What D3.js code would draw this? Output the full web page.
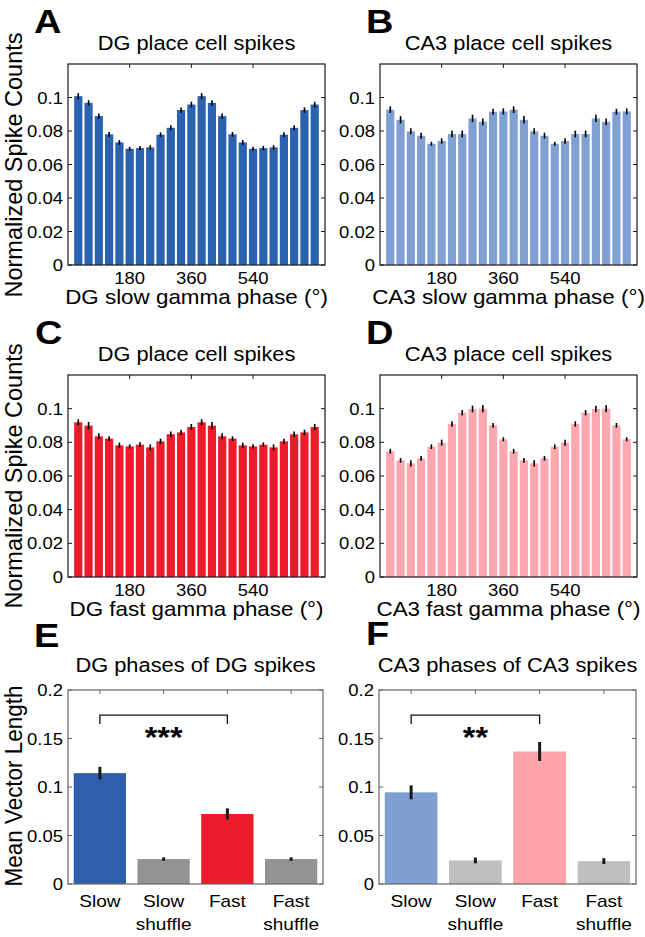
<!DOCTYPE html>
<html><head><meta charset="utf-8">
<script src="https://cdn.jsdelivr.net/npm/d3@7"></script>
<style>body{margin:0;background:#fff}svg{display:block}</style>
</head><body>
<script>
// ---------- DATA ----------
const phaseBins = [30,60,90,120,150,180,210,240,270,300,330,360,390,420,450,480,510,540,570,600,630,660,690,720];
const phaseTicks = [180,360,540];
const countTicks = [0,0.02,0.04,0.06,0.08,0.1];

const dgSlowCounts = [0.1008,0.0968,0.0889,0.0780,0.0732,0.0694,0.0698,0.0702,0.0778,0.0819,0.0925,0.0958,
                      0.1008,0.0968,0.0889,0.0780,0.0732,0.0694,0.0698,0.0702,0.0778,0.0819,0.0925,0.0958];
const dgSlowErr    = [0.0018,0.0016,0.0016,0.0014,0.0014,0.0012,0.0013,0.0013,0.0014,0.0015,0.0016,0.0017,
                      0.0018,0.0016,0.0016,0.0014,0.0014,0.0012,0.0013,0.0013,0.0014,0.0015,0.0016,0.0017];
const ca3SlowCounts = [0.0927,0.0867,0.0798,0.0772,0.0724,0.0740,0.0782,0.0782,0.0875,0.0855,0.0915,0.0917,
                       0.0927,0.0867,0.0798,0.0772,0.0724,0.0740,0.0782,0.0782,0.0875,0.0855,0.0915,0.0917];
const ca3SlowErr    = [0.0020,0.0022,0.0018,0.0018,0.0012,0.0016,0.0020,0.0020,0.0022,0.0020,0.0018,0.0018,
                       0.0020,0.0022,0.0018,0.0018,0.0012,0.0016,0.0020,0.0020,0.0022,0.0020,0.0018,0.0018];
const dgFastCounts = [0.0919,0.0899,0.0836,0.0822,0.0782,0.0776,0.0786,0.0770,0.0806,0.0848,0.0859,0.0891,
                      0.0919,0.0899,0.0836,0.0822,0.0782,0.0776,0.0786,0.0770,0.0806,0.0848,0.0859,0.0891];
const dgFastErr    = [0.0018,0.0022,0.0018,0.0014,0.0016,0.0012,0.0014,0.0018,0.0016,0.0016,0.0016,0.0018,
                      0.0018,0.0022,0.0018,0.0014,0.0016,0.0012,0.0014,0.0018,0.0016,0.0016,0.0016,0.0018];
const ca3FastCounts = [0.0747,0.0693,0.0675,0.0705,0.0774,0.0798,0.0909,0.0976,0.0998,0.1000,0.0901,0.0818,
                       0.0747,0.0693,0.0675,0.0705,0.0774,0.0798,0.0909,0.0976,0.0998,0.1000,0.0901,0.0818];
const ca3FastErr    = [0.0014,0.0014,0.0018,0.0014,0.0014,0.0018,0.0016,0.0016,0.0020,0.0022,0.0014,0.0012,
                       0.0014,0.0014,0.0018,0.0014,0.0014,0.0018,0.0016,0.0016,0.0020,0.0022,0.0014,0.0012];

const mvlCategories = [["Slow"],["Slow","shuffle"],["Fast"],["Fast","shuffle"]];
const mvlTicks = [0,0.05,0.1,0.15,0.2];
const dgMVL    = [0.1143,0.0257,0.0722,0.0257];
const dgMVLErr = [0.0065,0.0018,0.0058,0.0018];
const ca3MVL    = [0.0945,0.0243,0.1366,0.0236];
const ca3MVLErr = [0.0072,0.0030,0.0098,0.0030];

// ---------- STYLE / LAYOUT ----------
const FONT = "'Liberation Sans', Arial, Helvetica, sans-serif";
const SX = 1.12;
const W = 645, H = 937;
const svg = d3.select("body").append("svg").attr("width", W).attr("height", H);

function txt(x, y, s, o = {}) {
  return svg.append("text")
    .attr("transform", o.rot ? `translate(${x},${y}) rotate(-90) scale(1,1.05)` : `translate(${x},${y}) scale(${o.sx || SX},1)`)
    .attr("text-anchor", o.anchor || "middle")
    .attr("font-family", FONT)
    .attr("font-size", o.fs || 16)
    .attr("font-weight", o.bold ? "bold" : "normal")
    .attr("fill", "#000")
    .text(s);
}

function histPanel(p) {
  const x = d3.scaleLinear().domain([0, 750]).range([p.x0, p.x1]);
  const y = d3.scaleLinear().domain([0, 0.12]).range([p.y1, p.y0]);
  const g = svg.append("g");
  const tl = 4;
  phaseTicks.forEach(t => {
    g.append("line").attr("x1", x(t)).attr("x2", x(t)).attr("y1", p.y0).attr("y2", p.y0 + tl).attr("stroke", p.axis);
    g.append("line").attr("x1", x(t)).attr("x2", x(t)).attr("y1", p.y1).attr("y2", p.y1 - tl).attr("stroke", p.axis);
  });
  countTicks.forEach(t => {
    g.append("line").attr("x1", p.x0).attr("x2", p.x0 + tl).attr("y1", y(t)).attr("y2", y(t)).attr("stroke", p.axis);
    g.append("line").attr("x1", p.x1).attr("x2", p.x1 - tl).attr("y1", y(t)).attr("y2", y(t)).attr("stroke", p.axis);
  });
  const bw = x(24) - x(0);
  g.selectAll("rect.bar").data(p.values).enter().append("rect")
    .attr("x", (d, i) => x(phaseBins[i]) - bw / 2)
    .attr("width", bw)
    .attr("y", d => y(d))
    .attr("height", d => y(0) - y(d))
    .attr("fill", p.color);
  g.selectAll("line.err").data(p.values).enter().append("line")
    .attr("x1", (d, i) => x(phaseBins[i])).attr("x2", (d, i) => x(phaseBins[i]))
    .attr("y1", (d, i) => y(d - p.err[i])).attr("y2", (d, i) => y(d + p.err[i]))
    .attr("stroke", "#000").attr("stroke-width", 1.6);
  g.append("rect").attr("x", p.x0).attr("y", p.y0).attr("width", p.x1 - p.x0).attr("height", p.y1 - p.y0)
    .attr("fill", "none").attr("stroke", p.axis).attr("stroke-width", 1.2);
  countTicks.forEach(t => txt(p.x0 - 5, y(t) + 6, String(t), {anchor: "end", fs: 16.5}));
  phaseTicks.forEach(t => txt(x(t), p.y1 + 19, String(t), {fs: 16.5}));
  txt((p.x0 + p.x1) / 2, p.y1 + 39, p.xlabel, {fs: 20});
  txt((p.x0 + p.x1) / 2, p.y0 - 14, p.title, {fs: 19.5});
  txt(p.lx, p.ly, p.letter, {fs: 33, bold: true, anchor: "start", sx: 1.15});
}

function mvlPanel(p) {
  const x = d3.scaleLinear().domain([0.5, 4.5]).range([p.x0, p.x1]);
  const y = d3.scaleLinear().domain([0, 0.2]).range([p.y1, p.y0]);
  const g = svg.append("g");
  const tl = 4;
  mvlTicks.forEach(t => {
    g.append("line").attr("x1", p.x0).attr("x2", p.x0 + tl).attr("y1", y(t)).attr("y2", y(t)).attr("stroke", p.axis);
    g.append("line").attr("x1", p.x1).attr("x2", p.x1 - tl).attr("y1", y(t)).attr("y2", y(t)).attr("stroke", p.axis);
  });
  mvlCategories.forEach((c, i) => {
    g.append("line").attr("x1", x(i + 1)).attr("x2", x(i + 1)).attr("y1", p.y0).attr("y2", p.y0 + tl).attr("stroke", p.axis);
  });
  const bw = x(0.82) - x(0);
  g.selectAll("rect.bar").data(p.values).enter().append("rect")
    .attr("x", (d, i) => x(i + 1) - bw / 2).attr("width", bw)
    .attr("y", d => y(d)).attr("height", d => y(0) - y(d))
    .attr("fill", (d, i) => p.colors[i]);
  g.selectAll("line.err").data(p.values).enter().append("line")
    .attr("x1", (d, i) => x(i + 1)).attr("x2", (d, i) => x(i + 1))
    .attr("y1", (d, i) => y(d - p.err[i])).attr("y2", (d, i) => y(d + p.err[i]))
    .attr("stroke", "#1a1a1a").attr("stroke-width", 3);
  g.append("rect").attr("x", p.x0).attr("y", p.y0).attr("width", p.x1 - p.x0).attr("height", p.y1 - p.y0)
    .attr("fill", "none").attr("stroke", p.axis).attr("stroke-width", 1.2);
  const yb = y(0.174), ye = y(0.165);
  g.append("path").attr("d", `M${x(1)},${ye}V${yb}H${x(3)}V${ye}`)
    .attr("fill", "none").attr("stroke", "#111").attr("stroke-width", 1.3);
  txt(x(2), y(0.174) + 32, p.stars, {fs: 29, bold: true});
  mvlTicks.forEach(t => txt(p.x0 - 5, y(t) + 6, String(t), {anchor: "end", fs: 16.5}));
  mvlCategories.forEach((c, i) => c.forEach((s, j) => txt(x(i + 1), p.y1 + 23 + j * 23, s, {fs: 17})));
  txt((p.x0 + p.x1) / 2, p.y0 - 18, p.title, {fs: 19.5});
  txt(p.lx, p.ly, p.letter, {fs: 33, bold: true, anchor: "start", sx: 1.15});
}

histPanel({letter: "A", lx: 34, ly: 33, title: "DG place cell spikes", xlabel: "DG slow gamma phase (°)",
  x0: 68, x1: 325, y0: 64, y1: 265, values: dgSlowCounts, err: dgSlowErr, color: "#2a62b0", axis: "#1a1a1a"});
histPanel({letter: "B", lx: 366, ly: 33, title: "CA3 place cell spikes", xlabel: "CA3 slow gamma phase (°)",
  x0: 380, x1: 637, y0: 64, y1: 265, values: ca3SlowCounts, err: ca3SlowErr, color: "#80a0d3", axis: "#1a1a1a"});
histPanel({letter: "C", lx: 35, ly: 344, title: "DG place cell spikes", xlabel: "DG fast gamma phase (°)",
  x0: 68, x1: 325, y0: 375, y1: 577, values: dgFastCounts, err: dgFastErr, color: "#ed1c2b", axis: "#1a1a1a"});
histPanel({letter: "D", lx: 366, ly: 344, title: "CA3 place cell spikes", xlabel: "CA3 fast gamma phase (°)",
  x0: 380, x1: 637, y0: 375, y1: 577, values: ca3FastCounts, err: ca3FastErr, color: "#ffa7ae", axis: "#1a1a1a"});
mvlPanel({letter: "E", lx: 34, ly: 647, title: "DG phases of DG spikes", stars: "***",
  x0: 68, x1: 323, y0: 690, y1: 884, values: dgMVL, err: dgMVLErr,
  colors: ["#2d5fae", "#939393", "#ec1c2a", "#939393"], axis: "#666"});
mvlPanel({letter: "F", lx: 366, ly: 645, title: "CA3 phases of CA3 spikes", stars: "**",
  x0: 379, x1: 636, y0: 690, y1: 884, values: ca3MVL, err: ca3MVLErr,
  colors: ["#7f9fd1", "#bfbfbf", "#ffa4ab", "#bfbfbf"], axis: "#666"});

txt(22, 165, "Normalized Spike Counts", {rot: true, fs: 23.5});
txt(22, 476, "Normalized Spike Counts", {rot: true, fs: 23.5});
txt(22, 786, "Mean Vector Length", {rot: true, fs: 22.5});
</script>
</body></html>
